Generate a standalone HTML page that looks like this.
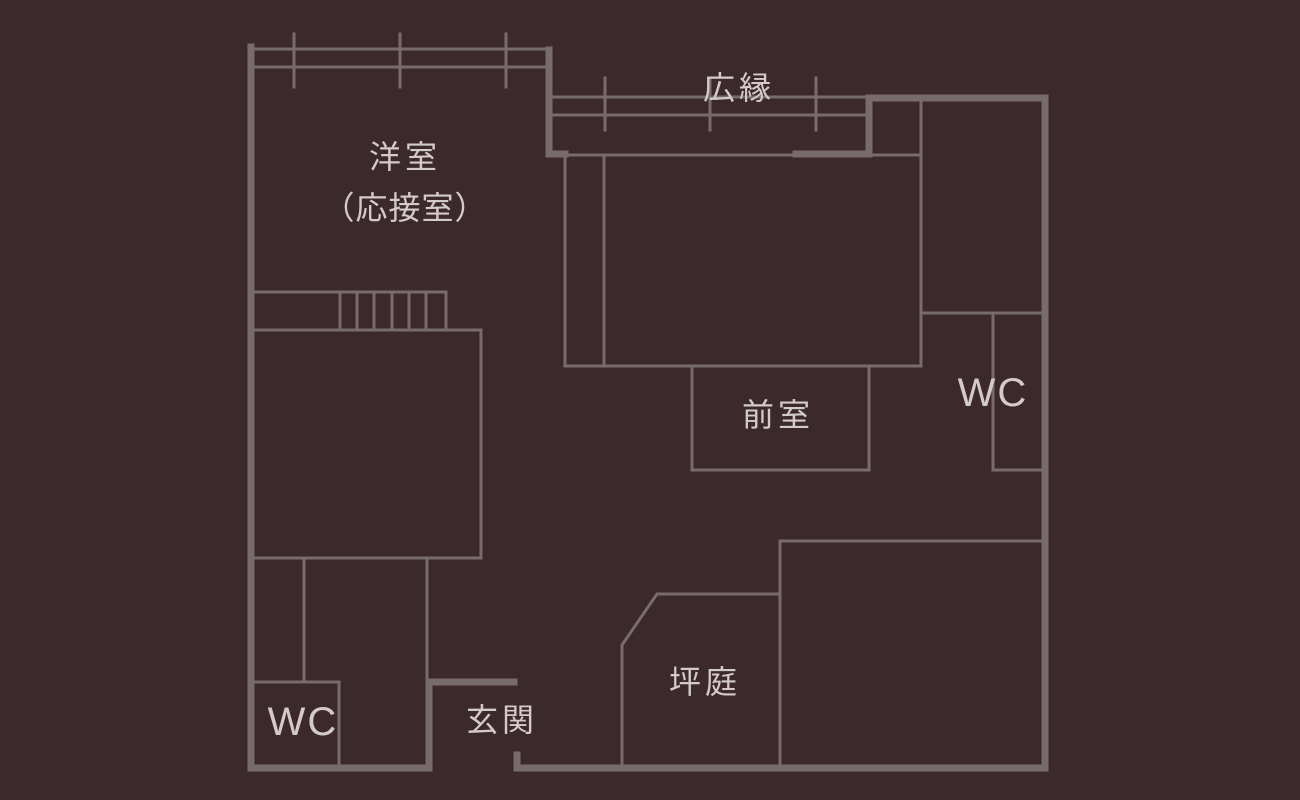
<!DOCTYPE html>
<html><head><meta charset="utf-8"><style>
html,body{margin:0;padding:0;background:#3c292b;}
svg{display:block}
text{font-family:"Liberation Sans","Noto Sans CJK JP",sans-serif;fill:#d3cbcb;text-anchor:middle;dominant-baseline:central}
.j{font-size:32px;letter-spacing:4px}
.w{font-size:40px;letter-spacing:2px}
</style></head><body>
<svg width="1300" height="800" viewBox="0 0 1300 800">
<rect width="1300" height="800" fill="#3c292b"/>
<g stroke="#776b6c" fill="none" stroke-linecap="square">
<g stroke-width="7">
<path d="M251 47 V768 H429 V682 H514"/>
<path d="M549 50 V154 H565"/>
<path d="M517 755 V768 H1045 V98 H869 V154 H796"/>
</g>
<g stroke-width="3">
<path d="M251 49 H547 M251 67 H547"/>
<path d="M294 34 V87 M400 34 V87 M506 34 V87"/>
<path d="M549 97 H866 M549 115 H866"/>
<path d="M605 78 V130 M710 78 V130 M816 78 V130"/>
<path d="M565 155 H921 M565 155 V366 M604 155 V366 M565 366 H921 M921 100 V366"/>
<path d="M921 313 H1045 M993 313 V470 H1045"/>
<path d="M692 366 V470 H869 V366"/>
<path d="M251 292 H446 V328"/>
<path d="M340 292 V328 M357 292 V328 M374 292 V328 M392 292 V328 M409 292 V328 M426 292 V328"/>
<path d="M251 330 H481 V558 H251"/>
<path d="M304 558 V681 M427 558 V680"/>
<path d="M251 682 H339 V768"/>
<path d="M622 768 V645 L657 594 H780 M780 768 V541 H1045"/>
</g>
</g>
<text class="j" x="405" y="157">洋室</text>
<text class="j" x="405" y="208" style="letter-spacing:1px">（応接室）</text>
<text class="j" x="739" y="88">広縁</text>
<text class="j" x="778" y="415">前室</text>
<text class="w" x="993" y="393">WC</text>
<text class="w" x="303" y="722">WC</text>
<text class="j" x="502" y="720">玄関</text>
<text class="j" x="705" y="682">坪庭</text>
</svg>
</body></html>
